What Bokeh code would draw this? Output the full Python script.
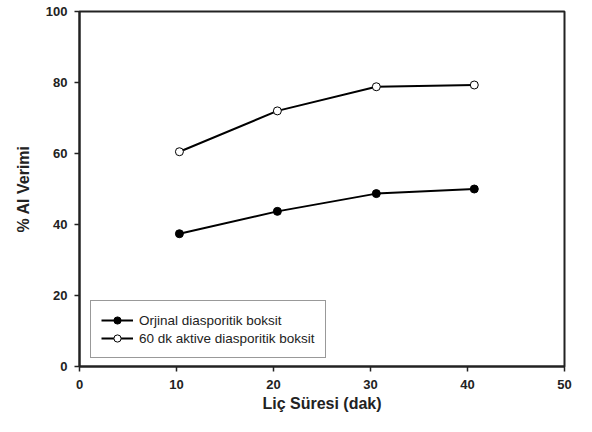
from bokeh.plotting import figure
from bokeh.models import Legend, LegendItem, FixedTicker, Range1d
from bokeh.embed import file_html
from bokeh.resources import INLINE

# Data
time_min = [10.3, 20.4, 30.6, 40.7]
orjinal = [37.4, 43.7, 48.7, 50.0]
aktive = [60.5, 72.0, 78.8, 79.3]
x_ticks = [0, 10, 20, 30, 40, 50]
y_ticks = [0, 20, 40, 60, 80, 100]

FONT = "Liberation Sans"

p = figure(width=576, height=416,
           x_range=Range1d(0, 50), y_range=Range1d(0, 100),
           output_backend="svg", toolbar_location=None,
           min_border_left=79, min_border_right=12,
           min_border_top=11, min_border_bottom=50,
           background_fill_color="white", border_fill_color="white")

p.grid.visible = False
p.outline_line_color = "#222222"
p.outline_line_width = 2
p.outline_line_alpha = 1.0

for ax, ticks in ((p.xaxis[0], x_ticks), (p.yaxis[0], y_ticks)):
    ax.ticker = FixedTicker(ticks=ticks)
    ax.axis_line_color = "#222222"
    ax.axis_line_width = 2
    ax.major_tick_line_color = "#222222"
    ax.major_tick_line_width = 1.5
    ax.major_tick_out = 5
    ax.major_tick_in = 0
    ax.minor_tick_line_color = None
    ax.major_label_text_font = FONT
    ax.major_label_text_font_style = "bold"
    ax.major_label_text_font_size = "13px"
    ax.major_label_text_color = "#222222"
    ax.axis_label_text_font = FONT
    ax.axis_label_text_font_style = "bold"
    ax.axis_label_text_font_size = "16px"
    ax.axis_label_text_color = "#222222"

p.xaxis.axis_label = "Liç Süresi (dak)"
p.yaxis.axis_label = "% Al Verimi"
p.xaxis.major_label_standoff = 8
p.yaxis.major_label_standoff = 7
p.xaxis.axis_label_standoff = 3
p.yaxis.axis_label_standoff = 11

r1 = p.line(time_min, orjinal, line_color="black", line_width=2)
s1 = p.scatter(time_min, orjinal, size=8, fill_color="black", line_color="black")
r2 = p.line(time_min, aktive, line_color="black", line_width=2)
s2 = p.scatter(time_min, aktive, size=8, fill_color="white", line_color="black", line_width=1)

legend = Legend(items=[
    LegendItem(label="Orjinal diasporitik boksit", renderers=[r1, s1]),
    LegendItem(label="60 dk aktive diasporitik boksit", renderers=[r2, s2]),
], location=(11, 8))
legend.label_text_font = FONT
legend.label_text_font_size = "13.5px"
legend.label_text_color = "#222222"
legend.border_line_color = "#333333"
legend.border_line_width = 1
legend.background_fill_color = "white"
legend.glyph_width = 32
legend.glyph_height = 18
legend.label_height = 18
legend.label_standoff = 6
legend.spacing = 0
legend.padding = 10
legend.margin = 0
p.add_layout(legend)

open("out.html", "w").write(file_html(p, INLINE))
